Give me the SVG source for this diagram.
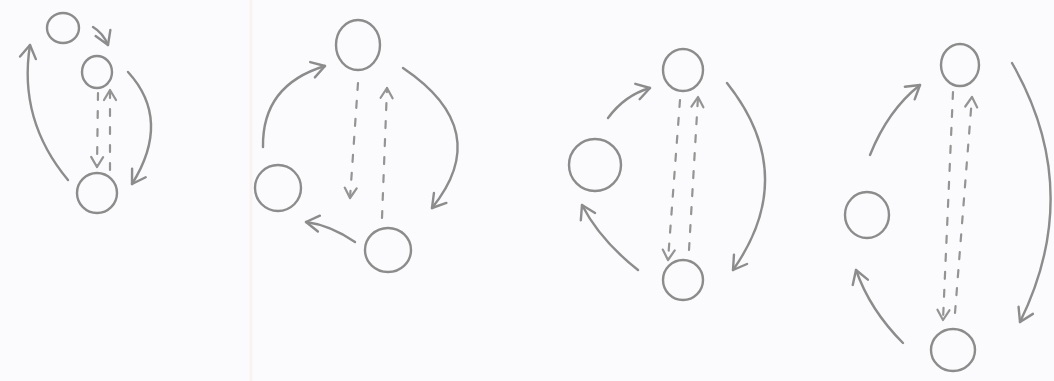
<svg xmlns="http://www.w3.org/2000/svg" width="1054" height="381" viewBox="0 0 1054 381">
<style>
.node{fill:none;stroke:#8c8c8c;stroke-width:2.4}
.edge{fill:none;stroke:#8c8c8c;stroke-width:2.4;stroke-linecap:round;marker-end:url(#ah)}
.dash{fill:none;stroke:#949494;stroke-width:2.2;stroke-linecap:round;stroke-dasharray:7 11;marker-end:url(#ahd)}
</style>
<defs>
<marker id="ah" viewBox="-16 -10 18 20" markerWidth="18" markerHeight="20" refX="0" refY="0" orient="auto" markerUnits="userSpaceOnUse">
<path d="M-13,-8 L0,0 L-13,8" fill="none" stroke="#8c8c8c" stroke-width="2.4" stroke-linecap="round" stroke-linejoin="round"/>
</marker>
<marker id="ahd" viewBox="-12 -8 14 16" markerWidth="14" markerHeight="16" refX="0" refY="0" orient="auto" markerUnits="userSpaceOnUse">
<path d="M-10,-6 L0,0 L-10,6" fill="none" stroke="#949494" stroke-width="2.2" stroke-linecap="round" stroke-linejoin="round"/>
</marker>
</defs>
<rect width="1054" height="381" fill="#fbfafc"/>
<line x1="251" y1="0" x2="251" y2="381" stroke="#fcf1f1" stroke-width="3"/>
<g id="g1a"><ellipse class="node" cx="63" cy="28" rx="16" ry="15"/></g>
<g id="g1b"><ellipse class="node" cx="97" cy="72" rx="15" ry="16"/></g>
<g id="g1c"><ellipse class="node" cx="97" cy="193" rx="20" ry="20"/></g>
<g id="g2a"><ellipse class="node" cx="358" cy="45" rx="22" ry="25"/></g>
<g id="g2b"><ellipse class="node" cx="278" cy="188" rx="23" ry="23"/></g>
<g id="g2c"><ellipse class="node" cx="388" cy="250" rx="23" ry="22"/></g>
<g id="g3a"><ellipse class="node" cx="683" cy="70" rx="20" ry="21"/></g>
<g id="g3b"><ellipse class="node" cx="595" cy="165" rx="26" ry="26"/></g>
<g id="g3c"><ellipse class="node" cx="683" cy="280" rx="20" ry="20"/></g>
<g id="g4a"><ellipse class="node" cx="960" cy="65" rx="19" ry="21"/></g>
<g id="g4b"><ellipse class="node" cx="867" cy="215" rx="22" ry="23"/></g>
<g id="g4c"><ellipse class="node" cx="953" cy="350" rx="22" ry="21"/></g>
<g id="connectors">
<path class="edge" d="M93,27 Q103,33 108,45"/>
<path class="edge" d="M68,180 Q18,120 30,45"/>
<path class="edge" d="M128,72 Q172,120 132,184"/>
<path class="dash" d="M98,93 L97,167"/>
<path class="dash" d="M110,170 L110,90"/>
<path class="edge" d="M263,147 Q262,85 325,66"/>
<path class="edge" d="M403,68 Q495,130 432,208"/>
<path class="edge" d="M355,242 Q330,225 306,222"/>
<path class="dash" d="M358,83 L350,198"/>
<path class="dash" d="M382,218 L387,88"/>
<path class="edge" d="M608,118 Q625,95 650,88"/>
<path class="edge" d="M638,270 Q600,240 582,205"/>
<path class="edge" d="M727,83 Q800,175 733,270"/>
<path class="dash" d="M680,100 L668,260"/>
<path class="dash" d="M689,250 L698,97"/>
<path class="edge" d="M870,155 Q888,110 920,85"/>
<path class="edge" d="M903,343 Q870,310 856,270"/>
<path class="edge" d="M1012,63 Q1085,190 1020,322"/>
<path class="dash" d="M953,92 L943,320"/>
<path class="dash" d="M955,313 L972,97"/>
</g>
</svg>
